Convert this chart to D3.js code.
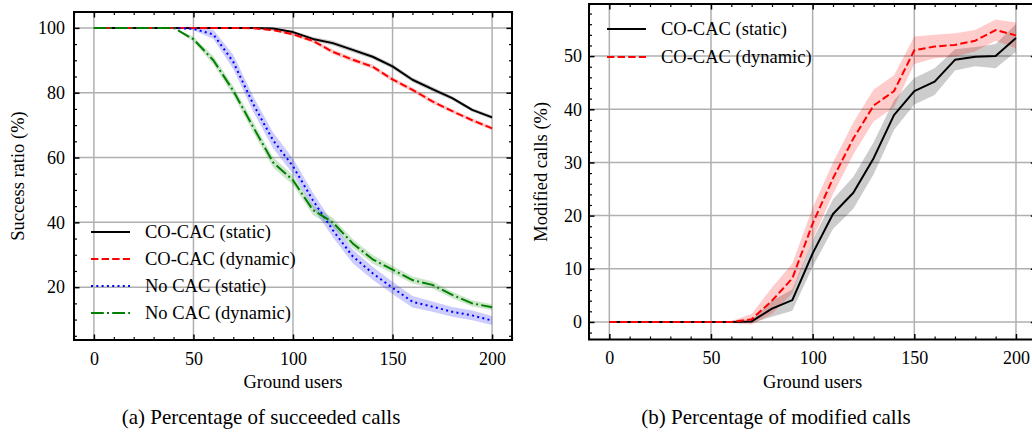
<!DOCTYPE html>
<html>
<head>
<meta charset="utf-8">
<script src="https://cdn.jsdelivr.net/npm/d3@7"></script>
<style>
  html, body { margin: 0; padding: 0; background: #fff; }
</style>
</head>
<body>
<svg id="chart" width="1032" height="441" font-family="Liberation Serif"></svg>
<script>
// ---------------- DATA ----------------
const groundUsers = [0,10,20,30,40,50,60,70,80,90,100,110,120,130,140,150,160,170,180,190,200];

// (a) success ratio (%)
const successCoStatic   = [100,100,100,100,100,100,100,100,100,99.8,98.7,96.6,95.3,93.2,91.1,88.1,84.0,81.1,78.3,74.7,72.4];
const successCoDynamic  = [100,100,100,100,100,100,100,100,99.9,99.3,98.0,96.0,92.6,90.2,88.0,84.1,80.9,77.3,74.3,71.5,69.0];
const successNoStatic   = [100,100,100,100,100,99.7,98.0,89.5,76.5,65.3,57.3,46.8,37.6,29.5,24.3,19.8,15.5,14.0,12.4,11.3,9.7];
const successNoDynamic  = [100,100,100,100,100,96.5,90.0,80.6,69.4,58.5,53.0,43.8,40.0,33.5,28.6,25.4,22.2,20.7,17.6,15.0,13.8];
const successCoStaticSd  = [0,0,0,0,0,0,0,0,0,0.2,0.4,0.6,0.7,0.7,0.7,0.7,0.7,0.7,0.6,0.6,0.6];
const successCoDynamicSd = [0,0,0,0,0,0,0,0,0.2,0.3,0.5,0.6,0.7,0.7,0.7,0.7,0.7,0.7,0.6,0.6,0.6];
const successNoStaticSd  = [0,0,0,0,0,0.4,1.4,2.2,2.4,2.4,2.4,2.3,2.2,2.1,2.0,1.9,1.8,1.6,1.5,1.5,1.4];
const successNoDynamicSd = [0,0,0,0,0,0.8,1.3,1.5,1.6,1.6,1.5,1.5,1.4,1.4,1.3,1.2,1.1,1.1,1.0,1.0,0.9];

// (b) modified calls (%)
const modifiedCoStatic    = [0,0,0,0,0,0,0,0.1,2.5,4.1,12.9,20.3,24.3,30.8,38.9,43.4,45.2,49.3,49.9,50.0,53.4];
const modifiedCoDynamic   = [0,0,0,0,0,0,0,0.5,4.0,8.2,18.5,27.0,34.5,40.7,43.4,51.1,51.8,52.1,52.9,54.9,53.9];
const modifiedCoStaticSd  = [0,0,0,0,0,0,0,0.3,1.5,2.0,2.5,2.8,3.0,3.0,2.8,2.5,2.5,2.0,1.8,2.3,2.6];
const modifiedCoDynamicSd = [0,0,0,0,0,0,0.2,1.0,2.5,2.8,3.0,3.0,3.0,3.0,3.0,2.6,2.2,2.2,2.0,2.0,2.4];

const seriesNames = ["CO-CAC (static)", "CO-CAC (dynamic)", "No CAC (static)", "No CAC (dynamic)"];
const xTicks = [0, 50, 100, 150, 200];
const xMinorTicks = [-10,0,10,20,30,40,50,60,70,80,90,100,110,120,130,140,150,160,170,180,190,200,210];
const yTicksA = [20, 40, 60, 80, 100];
const yTicksB = [0, 10, 20, 30, 40, 50];
const captions = ["(a) Percentage of succeeded calls", "(b) Percentage of modified calls"];
const xLabel = "Ground users";
const yLabels = ["Success ratio (%)", "Modified calls (%)"];

// ---------------- STYLE ----------------
const styles = [
  { color: "#000000", band: "rgba(0,0,0,0.2)",       dash: null },
  { color: "#ff0000", band: "rgba(255,0,0,0.2)",     dash: "7.4,3.2" },
  { color: "#0000ff", band: "rgba(0,0,255,0.2)",     dash: "2,3.3" },
  { color: "#008000", band: "rgba(0,128,0,0.2)",     dash: "12.8,3.2,2,3.2" }
];
const FONT = 18.5;
const TICKFONT = 18;
const FAMILY = "Liberation Serif";

const svg = d3.select("#chart");

function txt(sel, size) {
  return sel.attr("font-family", FAMILY).style("font-family", FAMILY).style("font-size", size + "px").attr("fill", "#000");
}

function panel(cfg) {
  const x = d3.scaleLinear().domain([-10, 210]).range([cfg.left, cfg.right]);
  const y = d3.scaleLinear().domain(cfg.yDomain).range([cfg.bottom, cfg.top]);
  const g = svg.append("g");

  // grid
  g.append("g").selectAll("line").data(xTicks).join("line")
    .attr("x1", d => x(d)).attr("x2", d => x(d))
    .attr("y1", cfg.top).attr("y2", cfg.bottom)
    .attr("stroke", "#b0b0b0").attr("stroke-width", 1.5);
  g.append("g").selectAll("line").data(cfg.yTicks).join("line")
    .attr("y1", d => y(d)).attr("y2", d => y(d))
    .attr("x1", cfg.left).attr("x2", cfg.right)
    .attr("stroke", "#b0b0b0").attr("stroke-width", 1.5);

  // clip
  const clipId = "clip" + cfg.id;
  svg.append("clipPath").attr("id", clipId).append("rect")
    .attr("x", cfg.left).attr("y", cfg.top)
    .attr("width", cfg.right - cfg.left).attr("height", cfg.bottom - cfg.top);
  const plot = g.append("g").attr("clip-path", `url(#${clipId})`);

  cfg.series.forEach(s => {
    const st = styles[s.style];
    const pts = groundUsers.map((u, k) => ({ u, v: s.values[k], sd: s.sd[k] }));
    const area = d3.area().x(d => x(d.u)).y0(d => y(d.v - d.sd)).y1(d => y(d.v + d.sd));
    plot.append("path").datum(pts).attr("d", area).attr("fill", st.band).attr("stroke", "none");
  });
  cfg.series.forEach(s => {
    const st = styles[s.style];
    const pts = groundUsers.map((u, k) => ({ u, v: s.values[k] }));
    const line = d3.line().x(d => x(d.u)).y(d => y(d.v));
    const p = plot.append("path").datum(pts).attr("d", line)
      .attr("fill", "none").attr("stroke", st.color).attr("stroke-width", 2)
      .attr("stroke-linejoin", "round").attr("stroke-linecap", "butt");
    if (st.dash) p.attr("stroke-dasharray", st.dash);
  });

  // axes with inward ticks
  const xMin = xMinorTicks.filter(v => xTicks.indexOf(v) < 0);
  const axB = d3.axisBottom(x).tickValues(xTicks).tickSizeInner(-5.5).tickSizeOuter(0).tickPadding(12).tickFormat(d3.format("d"));
  const axBm = d3.axisBottom(x).tickValues(xMin).tickSizeInner(-3).tickSizeOuter(0).tickFormat("");
  const axT = d3.axisTop(x).tickValues(xTicks).tickSizeInner(-5.5).tickSizeOuter(0).tickFormat("");
  const axTm = d3.axisTop(x).tickValues(xMin).tickSizeInner(-3).tickSizeOuter(0).tickFormat("");
  const axL = d3.axisLeft(y).tickValues(cfg.yTicks).tickSizeInner(-5.5).tickSizeOuter(0).tickPadding(cfg.yPad).tickFormat(d3.format("d"));
  const axLm = d3.axisLeft(y).tickValues(cfg.yMinor).tickSizeInner(-3).tickSizeOuter(0).tickFormat("");
  const axR = d3.axisRight(y).tickValues(cfg.yTicks).tickSizeInner(-5.5).tickSizeOuter(0).tickFormat("");
  const axRm = d3.axisRight(y).tickValues(cfg.yMinor).tickSizeInner(-3).tickSizeOuter(0).tickFormat("");

  const put = (ax, tr, w) => {
    const a = g.append("g").attr("transform", tr).call(ax).attr("font-family", FAMILY);
    a.select(".domain").remove();
    a.selectAll(".tick line").attr("stroke", "#000").attr("stroke-width", w);
    txt(a.selectAll(".tick text"), TICKFONT);
    return a;
  };
  put(axB, `translate(0,${cfg.bottom})`, 1.5);
  put(axBm, `translate(0,${cfg.bottom})`, 1.2);
  put(axT, `translate(0,${cfg.top})`, 1.5);
  put(axTm, `translate(0,${cfg.top})`, 1.2);
  put(axL, `translate(${cfg.left},0)`, 1.5);
  put(axLm, `translate(${cfg.left},0)`, 1.2);
  put(axR, `translate(${cfg.right},0)`, 1.5);
  put(axRm, `translate(${cfg.right},0)`, 1.2);

  // frame
  g.append("rect").attr("x", cfg.left).attr("y", cfg.top)
    .attr("width", cfg.right - cfg.left).attr("height", cfg.bottom - cfg.top)
    .attr("fill", "none").attr("stroke", "#000").attr("stroke-width", 2);

  // legend
  cfg.series.forEach((s, i) => {
    const st = styles[s.style];
    const ly = cfg.legY + i * cfg.legStep;
    const l = g.append("line").attr("x1", cfg.legX).attr("x2", cfg.legX + 39)
      .attr("y1", ly).attr("y2", ly).attr("stroke", st.color).attr("stroke-width", 2);
    if (st.dash) l.attr("stroke-dasharray", st.dash);
    txt(g.append("text").attr("x", cfg.legX + 54).attr("y", ly + 6), FONT).text(seriesNames[s.style]);
  });

  // labels
  txt(g.append("text").attr("x", (x(0) + x(200)) / 2).attr("y", cfg.bottom + 48)
    .attr("text-anchor", "middle"), FONT).text(xLabel);
  txt(g.append("text").attr("transform", `translate(${cfg.yLabX},${(cfg.top + cfg.bottom) / 2}) rotate(-90)`)
    .attr("text-anchor", "middle"), FONT).text(cfg.yLabel);
  txt(g.append("text").attr("x", cfg.capX).attr("y", 424)
    .attr("text-anchor", "middle"), 21).text(cfg.caption);
}

panel({
  id: "a", left: 74, right: 512, top: 12, bottom: 340,
  yDomain: [3.7, 104.9], yTicks: yTicksA,
  yMinor: [5,10,15,25,30,35,45,50,55,65,70,75,85,90,95],
  yPad: 9, yLabX: 24, yLabel: yLabels[0], caption: captions[0], capX: 261,
  legX: 91, legY: 232, legStep: 27,
  series: [
    { values: successCoStatic,  sd: successCoStaticSd,  style: 0 },
    { values: successCoDynamic, sd: successCoDynamicSd, style: 1 },
    { values: successNoStatic,  sd: successNoStaticSd,  style: 2 },
    { values: successNoDynamic, sd: successNoDynamicSd, style: 3 }
  ]
});

panel({
  id: "b", left: 589, right: 1036.3, top: 4, bottom: 339.5,
  yDomain: [-3.3, 59.8], yTicks: yTicksB,
  yMinor: [-2,2,4,6,8,12,14,16,18,22,24,26,28,32,34,36,38,42,44,46,48,52,54,56,58],
  yPad: 7, yLabX: 547, yLabel: yLabels[1], caption: captions[1], capX: 776,
  legX: 607, legY: 29, legStep: 28,
  series: [
    { values: modifiedCoStatic,  sd: modifiedCoStaticSd,  style: 0 },
    { values: modifiedCoDynamic, sd: modifiedCoDynamicSd, style: 1 }
  ]
});
</script>
</body>
</html>
